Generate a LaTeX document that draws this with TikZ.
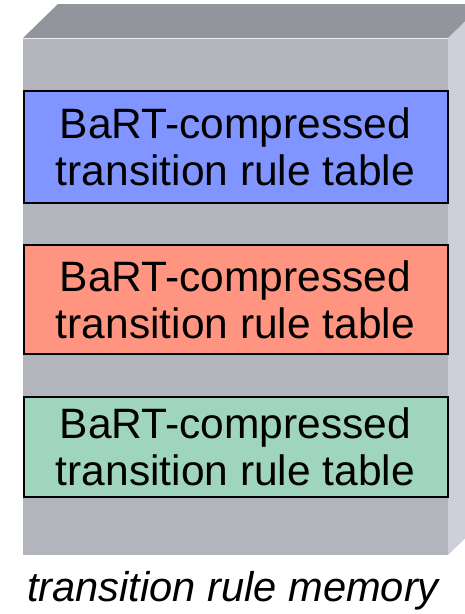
\documentclass[tikz,border=0pt]{standalone}
\usepackage{fontspec}
\setmainfont{Liberation Sans}
\definecolor{frontgray}{HTML}{B3B5BD}
\definecolor{topgray}{HTML}{93959D}
\definecolor{sidegray}{HTML}{CDCFD9}
\definecolor{tblue}{HTML}{8095FF}
\definecolor{tred}{HTML}{FF9580}
\definecolor{tgreen}{HTML}{9FD4BD}
\tikzset{
  tablebox/.style={draw=black, line width=2pt, minimum width=424pt, inner sep=0pt,
    align=center, font=\fontsize{42.5}{47}\selectfont, text=black},
  caption/.style={font=\fontsize{41.6}{46}\selectfont\itshape, text=black}
}
\begin{document}
\begin{tikzpicture}[x=1pt, y=-1pt]
  \useasboundingbox (0,0) rectangle (465,614);
  \clip (0,0) rectangle (465,614);
  \fill[white] (0,0) rectangle (465,614);
  % memory block drawn as a box: top, side and front faces
  \fill[topgray] (23,38) -- (58,4) -- (500,4) -- (448,38) -- cycle;
  \fill[sidegray] (448,38) -- (483,4) -- (483,521) -- (448,555) -- cycle;
  \fill[frontgray] (23,38) rectangle (448,555);
  \draw[white!75!frontgray, line width=1pt] (23,38.5) -- (448,38.5);
  % stored tables
  \node[tablebox, fill=tblue, minimum height=112pt] (t1) at (235.5,147) {BaRT-compressed\\transition rule table};
  \node[tablebox, fill=tred, minimum height=109pt] (t2) at (235.5,299.5) {BaRT-compressed\\transition rule table};
  \node[tablebox, fill=tgreen, minimum height=100pt] (t3) at (235.5,446.5) {BaRT-compressed\\transition rule table};
  \node[caption] (cap) at (233,591) {transition rule memory};
\end{tikzpicture}
\end{document}
